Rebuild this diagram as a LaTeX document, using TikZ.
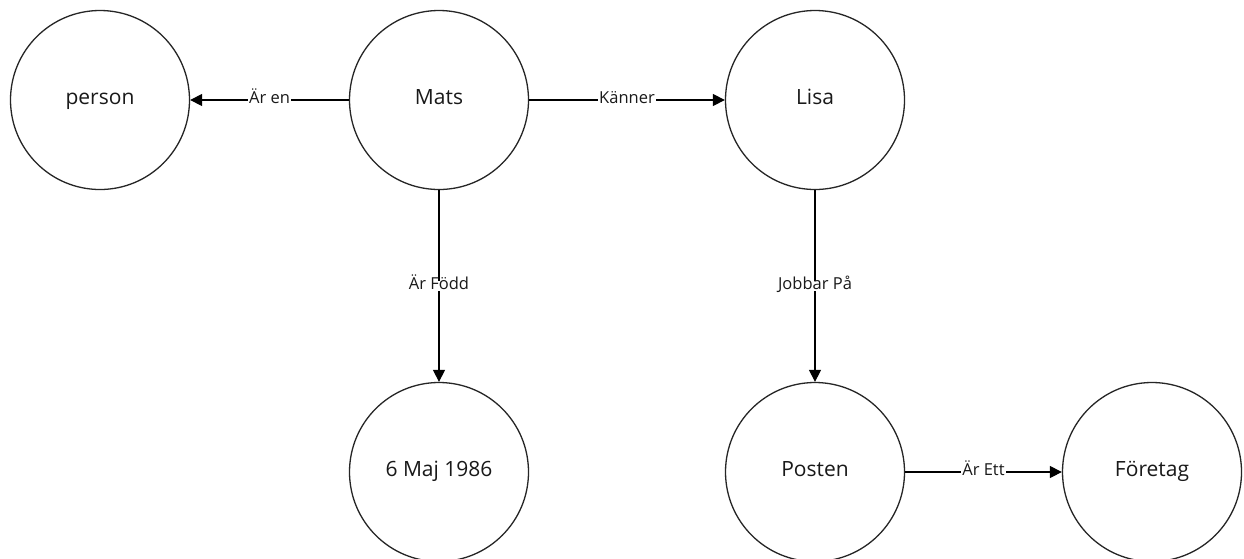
\documentclass[tikz,border=0pt]{standalone}
\usepackage{fontspec}
\setmainfont{Open Sans}
\usetikzlibrary{arrows.meta}
\begin{document}
\begin{tikzpicture}[x=1pt,y=-1pt,
  ent/.style={circle, draw=black!85, line width=1.3pt, minimum size=179pt, inner sep=0pt,
              font=\fontsize{21}{24}\selectfont, text=black!90,
              text height=0.9em, text depth=0pt},
  rel/.style={draw=black, line width=1.2pt, -{Triangle[length=12pt,width=12pt]}},
  lbl/.style={fill=white, inner sep=1pt, font=\fontsize{16.5}{19}\selectfont, text=black!90,
              text height=0.8em, text depth=0.02em}]
\fill[white] (0,0) rectangle (1244,558);
\useasboundingbox (0,0) rectangle (1244,558);
% entities
\node[ent] (person) at (100,100) {person};
\node[ent] (mats) at (439,100) {Mats};
\node[ent] (lisa) at (815,100) {Lisa};
\node[ent] (datum) at (439,472) {6 Maj 1986};
\node[ent] (posten) at (815,472) {Posten};
\node[ent] (foretag) at (1152,472) {Företag};
% relations
\draw[rel] (mats) -- node[lbl] {Är en} (person);
\draw[rel] (mats) -- node[lbl] {Känner} (lisa);
\draw[rel] (mats) -- node[lbl] {Är Född} (datum);
\draw[rel] (lisa) -- node[lbl] {Jobbar På} (posten);
\draw[rel] (posten) -- node[lbl] {Är Ett} (foretag);
\end{tikzpicture}
\end{document}
